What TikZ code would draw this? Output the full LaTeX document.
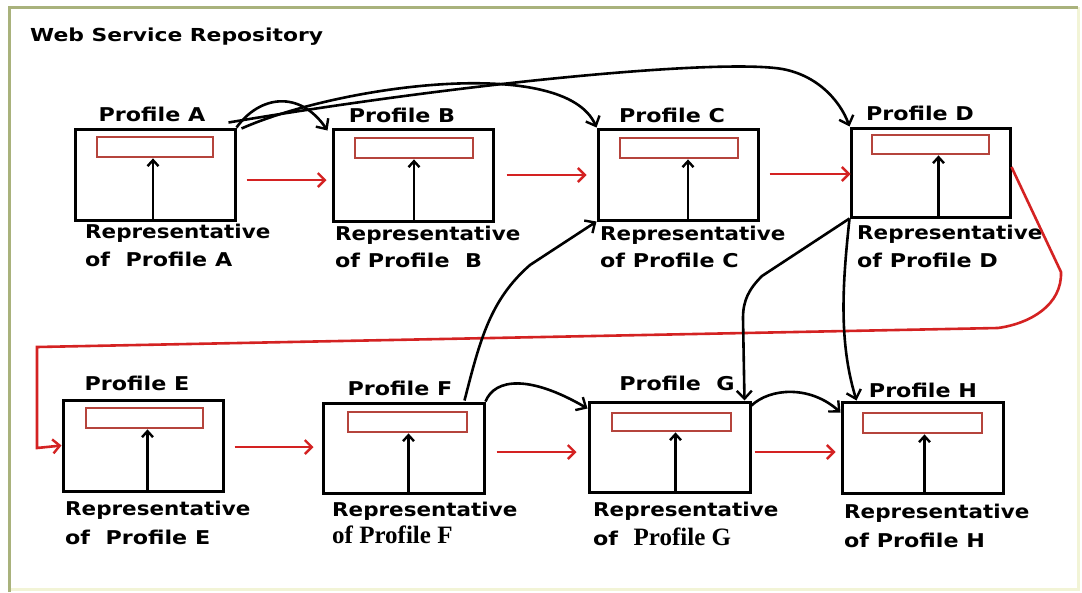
\documentclass[tikz,border=0pt]{standalone}
\usepackage{fontspec}
\newfontfamily\repfont{DejaVu Sans}[FakeStretch=1.13]
\newfontfamily\lblfont{DejaVu Sans}[FakeStretch=1.17]
\newfontfamily\ttlfont{DejaVu Sans}[FakeStretch=1.22]
\newfontfamily\serfont{Liberation Serif}
\usetikzlibrary{arrows.meta,calc}
\definecolor{boxred}{HTML}{B5443C}
\definecolor{flowred}{HTML}{D42222}
\definecolor{frameolive}{HTML}{A9B27C}
\definecolor{framepale}{HTML}{F2F4D6}
\begin{document}
\begin{tikzpicture}[x=1pt,y=-1pt,
  pbox/.style={draw=black,line width=3pt,inner sep=0pt},
  rbox/.style={draw=boxred,line width=2.8pt,inner sep=0pt,minimum height=20pt},
  lbl/.style={font=\lblfont\bfseries\fontsize{19}{22}\selectfont,inner sep=0pt,anchor=base west},
  replbl/.style={lbl,font=\repfont\bfseries\fontsize{19}{22}\selectfont},
  ptitle/.style={font=\lblfont\bfseries\fontsize{19}{22}\selectfont,inner sep=0pt,anchor=base},
  serlbl/.style={font=\serfont\bfseries\fontsize{25}{28}\selectfont},
  uparr/.style={draw=black,line width=2.6pt,-{Straight Barb[length=6pt,width=11pt,line width=2.4pt]}},
  redarr/.style={draw=flowred,line width=2.6pt,-{Straight Barb[length=7pt,width=14pt,line width=2.4pt]}},
  link/.style={draw=black,line width=2.6pt,-{Straight Barb[length=8pt,width=15pt,line width=2.4pt]}}
]
% canvas and frame
\path[use as bounding box,fill=white] (0,0) rectangle (1082,592);
\draw[framepale,line width=3pt] (1078,7) -- (1078,589) -- (9,589);
\draw[frameolive,line width=3pt] (9,592) -- (9,7) -- (1078,7);

\node[font=\ttlfont\bfseries\fontsize{17.9}{20}\selectfont,inner sep=0pt,anchor=base west] (title) at (30,41) {Web Service Repository};

% profile boxes
\node[pbox,minimum width=160pt,minimum height=91pt] (A) at (155,174.5) {};
\node[pbox,minimum width=160pt,minimum height=92pt] (B) at (413,175) {};
\node[pbox,minimum width=160pt,minimum height=91pt] (C) at (678,174.5) {};
\node[pbox,minimum width=159pt,minimum height=89pt] (D) at (930.5,172.5) {};
\node[pbox,minimum width=160pt,minimum height=91pt] (E) at (143,445.5) {};
\node[pbox,minimum width=161pt,minimum height=90pt] (F) at (403.5,448) {};
\node[pbox,minimum width=161pt,minimum height=90pt] (G) at (669.5,447) {};
\node[pbox,minimum width=161pt,minimum height=91pt] (H) at (922.5,447.5) {};

% representative slots
\node[rbox,minimum width=116pt] (Ar) at (155,147) {};
\node[rbox,minimum width=118pt] (Br) at (414,148) {};
\node[rbox,minimum width=118pt] (Cr) at (679,148) {};
\node[rbox,minimum width=117pt,minimum height=19pt] (Dr) at (930.5,144.5) {};
\node[rbox,minimum width=117pt] (Er) at (144.5,418) {};
\node[rbox,minimum width=119pt] (Fr) at (407.5,422) {};
\node[rbox,minimum width=119pt,minimum height=18pt] (Gr) at (671.5,422) {};
\node[rbox,minimum width=119pt] (Hr) at (922.5,423) {};

% box titles
\node[ptitle] (At) at (152,121) {Profile A};
\node[ptitle] (Bt) at (402,122) {Profile B};
\node[ptitle] (Ct) at (672,122) {Profile C};
\node[ptitle] (Dt) at (920,120) {Profile D};
\node[ptitle] (Et) at (137,390) {Profile E};
\node[ptitle] (Ft) at (400,395) {Profile F};
\node[ptitle] (Gt) at (677,390) {Profile\ \ G};
\node[ptitle] (Ht) at (923,397) {Profile H};

% captions under the boxes
\node[replbl] (Al1) at (85,238) {Representative};
\node[lbl] (Al2) at (85,266) {of\ \ Profile A};
\node[replbl] (Bl1) at (335,240) {Representative};
\node[lbl] (Bl2) at (335,267) {of Profile\ \ B};
\node[replbl] (Cl1) at (600,240) {Representative};
\node[lbl] (Cl2) at (600,267) {of Profile C};
\node[replbl] (Dl1) at (857,239) {Representative};
\node[lbl] (Dl2) at (857,267) {of Profile D};
\node[replbl] (El1) at (65,515) {Representative};
\node[lbl] (El2) at (65,544) {of\ \ Profile E};
\node[replbl] (Fl1) at (332,516) {Representative};
\node[lbl,serlbl] (Fl2) at (332,543) {of Profile F};
\node[replbl] (Gl1) at (593,516) {Representative};
\node[lbl] (Gl2) at (593,545) {of\ \ {\serfont\fontsize{25}{28}\selectfont Profile G}};
\node[replbl] (Hl1) at (844,518) {Representative};
\node[lbl] (Hl2) at (844,547) {of Profile H};

% pointers into the slots
\draw[uparr] ($(Ar.south |- A.south)+(-2,0)$) -- ($(Ar.south)+(-2,0)$);
\draw[uparr] (Br.south |- B.south) -- (Br.south);
\draw[uparr] ($(Cr.south |- C.south)+(9,0)$) -- ($(Cr.south)+(9,0)$);
\draw[uparr] ($(Dr.south |- D.south)+(8,0)$) -- ($(Dr.south)+(8,0)$);
\draw[uparr] ($(Er.south |- E.south)+(3,0)$) -- ($(Er.south)+(3,0)$);
\draw[uparr] ($(Fr.south |- F.south)+(1,0)$) -- ($(Fr.south)+(1,0)$);
\draw[uparr] ($(Gr.south |- G.south)+(4,0)$) -- ($(Gr.south)+(4,0)$);
\draw[uparr] ($(Hr.south |- H.south)+(2,0)$) -- ($(Hr.south)+(2,0)$);

% red chain
\draw[redarr] ($(A.east)+(10,5.5)$) -- ($(B.west)+(-5,5)$);
\draw[redarr] ($(B.east)+(12,0)$) -- ($(C.west)+(-10,0.5)$);
\draw[redarr] ($(C.east)+(10,-0.5)$) -- ($(D.west)+(1,1.5)$);
\draw[redarr] ($(E.east)+(10,1.5)$) -- ($(F.west)+(-8,-1)$);
\draw[redarr] ($(F.east)+(11,4)$) -- ($(G.west)+(-11,5)$);
\draw[redarr] ($(G.east)+(3,5)$) -- ($(H.west)+(-5,4.5)$);
\draw[redarr] ($(D.east)+(0,-5.5)$) -- (1061,272) to[out=-88,in=8] (998,328)
  -- (37,347) -- (37,448) -- (E.west);

% black links
\draw[link] (A.north east) .. controls (260,95) and (300,90) .. ($(B.north west)+(-4,3)$);
\draw[link] ($(A.north east)+(5,1)$) .. controls (340,85) and (565,55) .. (C.north west);
\draw[link] ($(A.north east)+(-8,-5)$) .. controls (450,85) and (700,60) .. (775,68)
  .. controls (815,72) and (840,100) .. (D.north west);
\draw[link] ($(F.north east)+(-21,-1)$) .. controls (480,340) and (490,300) .. (530,265) -- (C.south west);
\draw[link] (D.south west) -- (762,276) to[out=-135,in=90] (743,318) -- ($(G.north east)+(-7,0)$);
\draw[link] (D.south west) .. controls (843,280) and (838,340) .. ($(H.north west)+(16,0)$);
\draw[link] (F.north east) .. controls (495,378) and (530,375) .. ($(G.north west)+(0,8)$);
\draw[link] ($(G.north east)+(0,5)$) .. controls (770,388) and (810,385) .. ($(H.north west)+(0,12)$);
\end{tikzpicture}
\end{document}
